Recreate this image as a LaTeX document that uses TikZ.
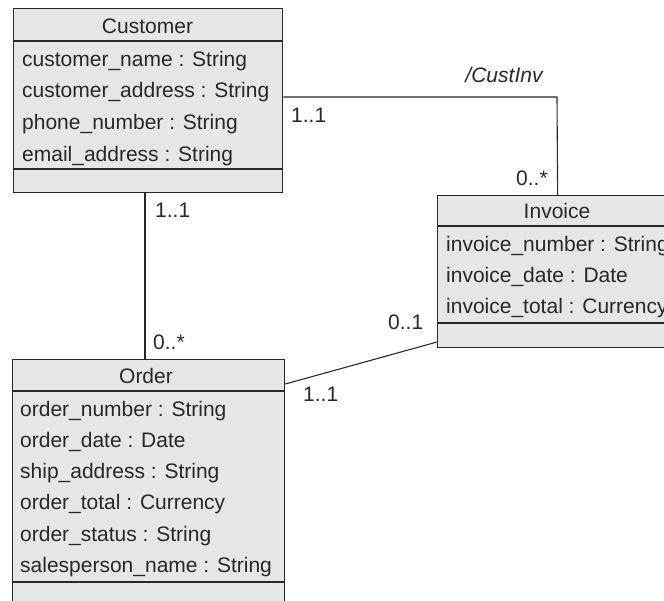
\documentclass[tikz,border=0pt]{standalone}
\usepackage{fontspec}
\setmainfont{Liberation Sans}
\definecolor{boxfill}{RGB}{230,230,231}
\definecolor{ink}{RGB}{40,40,40}
\begin{document}
\begin{tikzpicture}[x=1pt,y=-1pt,
  classbox/.style={draw=ink, fill=boxfill, line width=1.3pt, anchor=north west, inner sep=0pt},
  divider/.style={draw=ink, line width=1.3pt},
  assoc/.style={draw=ink, line width=1.1pt},
  txt/.style={font=\fontsize{21}{24}\selectfont, text=ink, inner sep=0pt, anchor=base west},
  ttl/.style={font=\fontsize{21}{24}\selectfont, text=ink, inner sep=0pt, anchor=base}]
\useasboundingbox (0,0) rectangle (664,600);
\clip (0,0) rectangle (664,600);
\fill[white] (0,0) rectangle (664,600);

% Customer
\node[classbox, minimum width=269pt, minimum height=184pt] (cust) at (13,8) {};
\draw[divider] (13,41) -- (282,41);
\draw[divider] (13,169) -- (282,169);
\node[ttl] (custT) at (147.5,33) {Customer};
\node[txt] (c1) at (22,66) {customer\_name : String};
\node[txt] (c2) at (22,97.7) {customer\_address : String};
\node[txt] (c3) at (22,129.4) {phone\_number : String};
\node[txt] (c4) at (22,161.1) {email\_address : String};

% Invoice
\node[classbox, minimum width=240pt, minimum height=152pt] (inv) at (437,195) {};
\draw[divider] (437,226) -- (677,226);
\draw[divider] (437,323) -- (677,323);
\node[ttl] (invT) at (557,218) {Invoice};
\node[txt] (i1) at (446,251) {invoice\_number : String};
\node[txt] (i2) at (446,282) {invoice\_date : Date};
\node[txt] (i3) at (446,313) {invoice\_total : Currency};

% Order
\node[classbox, minimum width=272pt, minimum height=262pt] (ord) at (12,359) {};
\draw[divider] (12,391) -- (284,391);
\draw[divider] (12,582) -- (284,582);
\node[ttl] (ordT) at (146,383) {Order};
\node[txt] (o1) at (20,416) {order\_number : String};
\node[txt] (o2) at (20,447) {order\_date : Date};
\node[txt] (o3) at (20,478) {ship\_address : String};
\node[txt] (o4) at (20,509.5) {order\_total : Currency};
\node[txt] (o5) at (20,541) {order\_status : String};
\node[txt] (o6) at (20,572) {salesperson\_name : String};

% Associations
\coordinate (bend) at (557,97);
\draw[assoc] (cust.east |- bend) -- (bend) -- (inv.north);
\coordinate (co) at (145,0);
\draw[assoc] (cust.south -| co) -- (co |- ord.north);
\draw[assoc] ([yshift=-25pt]ord.north east) -- ([yshift=-147pt]inv.north west);

% Association name and multiplicities
\node[ttl, font=\fontsize{21}{24}\selectfont\itshape] (lname) at (504,82) {/CustInv};
\node[txt] (m1) at (291,122) {1..1};
\node[txt] (m2) at (516,185) {0..*};
\node[txt] (m3) at (155,217) {1..1};
\node[txt] (m4) at (153,349) {0..*};
\node[txt] (m5) at (388,329) {0..1};
\node[txt] (m6) at (303,401) {1..1};
\end{tikzpicture}
\end{document}
